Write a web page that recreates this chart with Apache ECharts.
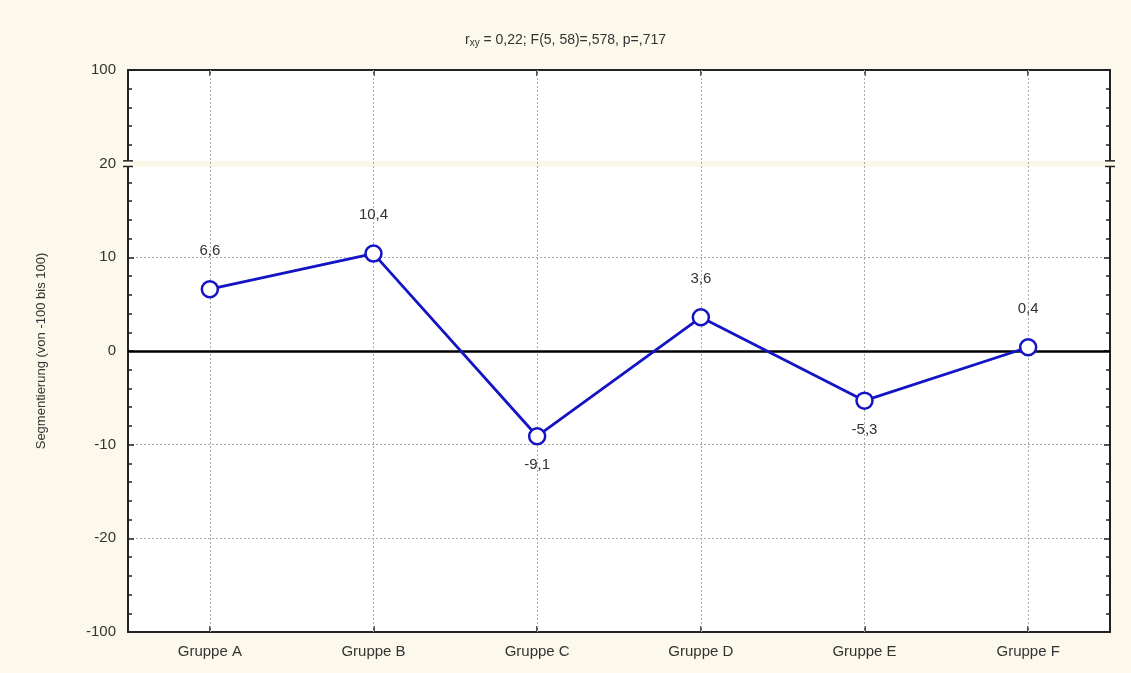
<!DOCTYPE html>
<html>
<head>
<meta charset="utf-8">
<script src="https://cdn.jsdelivr.net/npm/echarts@6/dist/echarts.min.js"></script>
<style>
  html, body { margin: 0; padding: 0; background: #fcf8ec; }
  #chart { width: 1131px; height: 673px; }
</style>
</head>
<body>
<div id="chart"></div>
<script>
var categories = ['Gruppe A', 'Gruppe B', 'Gruppe C', 'Gruppe D', 'Gruppe E', 'Gruppe F']
var values = [6.6, 10.4, -9.1, 3.6, -5.3, 0.4]
// axis is broken: outer ticks stand for -100 and 100
var yTicks = [-30, -20, -10, 0, 10, 20, 30]
var yTickLabels = ['-100', '-20', '-10', '0', '10', '20', '100']

var fontFamily = '"Liberation Sans", Arial, sans-serif'
var lineColor = '#1414c4'
var bgColor = '#fcf8ec'

function fmt (v) {
  return String(v).replace('.', ',')
}

function yLabel (v) {
  var i = yTicks.indexOf(v)
  return i >= 0 ? yTickLabels[i] : ''
}

var pointData = values.map(function (v) {
  return {
    value: v,
    label: {
      position: v < 0 ? 'bottom' : 'top',
      distance: v < 0 ? 12 : 22
    }
  }
})

var axisCommon = {
  axisLine: { show: true, onZero: false, lineStyle: { color: '#222', width: 2 } },
  axisTick: { show: true, inside: true, length: 6, lineStyle: { color: '#222', width: 1.5 } }
}

var chart = echarts.init(document.getElementById('chart'))
chart.setOption({
  backgroundColor: bgColor,
  animation: false,
  title: {
    text: '{r|r}{s|xy}{r| = 0,22; F(5, 58)=,578, p=,717}',
    left: 'center',
    top: 27,
    textStyle: {
      rich: {
        r: { fontSize: 14, color: '#333', fontWeight: 'normal', fontFamily: fontFamily },
        s: { fontSize: 10, color: '#333', fontWeight: 'normal', fontFamily: fontFamily, padding: [6, 0, 0, 0] }
      }
    }
  },
  grid: {
    left: 128,
    right: 21,
    top: 70,
    bottom: 41,
    show: true,
    backgroundColor: '#ffffff',
    borderWidth: 0
  },
  xAxis: [{
    type: 'category',
    data: categories,
    position: 'bottom',
    boundaryGap: true,
    axisLine: axisCommon.axisLine,
    axisTick: Object.assign({ alignWithLabel: true }, axisCommon.axisTick),
    axisLabel: { color: '#333', fontSize: 15, fontFamily: fontFamily, margin: 12 },
    splitLine: { show: false }
  }, {
    type: 'category',
    data: categories,
    position: 'top',
    boundaryGap: true,
    axisLine: axisCommon.axisLine,
    axisTick: Object.assign({ alignWithLabel: true }, axisCommon.axisTick),
    axisLabel: { show: false },
    splitLine: { show: false }
  }],
  yAxis: [{
    type: 'value',
    min: -30,
    max: 30,
    interval: 10,
    name: 'Segmentierung (von -100 bis 100)',
    nameLocation: 'middle',
    nameGap: 80,
    nameTextStyle: { color: '#333', fontSize: 13, fontFamily: fontFamily },
    axisLine: axisCommon.axisLine,
    axisTick: axisCommon.axisTick,
    minorTick: { show: true, splitNumber: 5, length: 4, lineStyle: { color: '#222', width: 1.5 } },
    axisLabel: { color: '#333', fontSize: 15, fontFamily: fontFamily, margin: 12, formatter: yLabel },
    splitLine: { show: true, lineStyle: { color: '#aaa', type: [2, 2], width: 1 } }
  }, {
    type: 'value',
    position: 'right',
    min: -30,
    max: 30,
    interval: 10,
    axisLine: axisCommon.axisLine,
    axisTick: axisCommon.axisTick,
    minorTick: { show: true, splitNumber: 5, length: 4, lineStyle: { color: '#222', width: 1.5 } },
    axisLabel: { show: false },
    splitLine: { show: false }
  }],
  series: [{
    type: 'line',
    data: pointData,
    z: 5,
    symbol: 'circle',
    symbolSize: 16,
    itemStyle: { color: '#ffffff', borderColor: lineColor, borderWidth: 2.5 },
    lineStyle: { color: lineColor, width: 2.8 },
    label: {
      show: true,
      color: '#333',
      fontSize: 15,
      fontFamily: fontFamily,
      formatter: function (p) { return fmt(p.value) }
    },
    markLine: {
      silent: true,
      symbol: 'none',
      label: { show: false },
      z: 1,
      data: categories.map(function (c) {
        return { xAxis: c, lineStyle: { color: '#aaa', type: [2, 2], width: 1 } }
      }).concat([{ yAxis: 0, lineStyle: { color: '#000', type: 'solid', width: 2.5 } }])
    },
    markArea: {
      silent: true,
      z: 1,
      itemStyle: { color: '#fbf7e6', opacity: 1 },
      data: [[{ yAxis: 19.7 }, { yAxis: 20.3 }]]
    }
  }]
})

// break caps on both vertical axes
function drawBreak () {
  var top = chart.convertToPixel({ yAxisIndex: 0 }, 20.3)
  var bot = chart.convertToPixel({ yAxisIndex: 0 }, 19.7)
  var gridRect = chart.getModel().getComponent('grid').coordinateSystem.getRect()
  var xs = [gridRect.x, gridRect.x + gridRect.width]
  var els = []
  xs.forEach(function (x) {
    els.push({ type: 'rect', shape: { x: x - 3, y: top, width: 6, height: bot - top }, style: { fill: bgColor }, z: 100 })
    els.push({ type: 'line', shape: { x1: x - 5, y1: top, x2: x + 5, y2: top }, style: { stroke: '#222', lineWidth: 1.5 }, z: 101 })
    els.push({ type: 'line', shape: { x1: x - 5, y1: bot, x2: x + 5, y2: bot }, style: { stroke: '#222', lineWidth: 1.5 }, z: 101 })
  })
  chart.setOption({ graphic: els })
}
drawBreak()
</script>
</body>
</html>
